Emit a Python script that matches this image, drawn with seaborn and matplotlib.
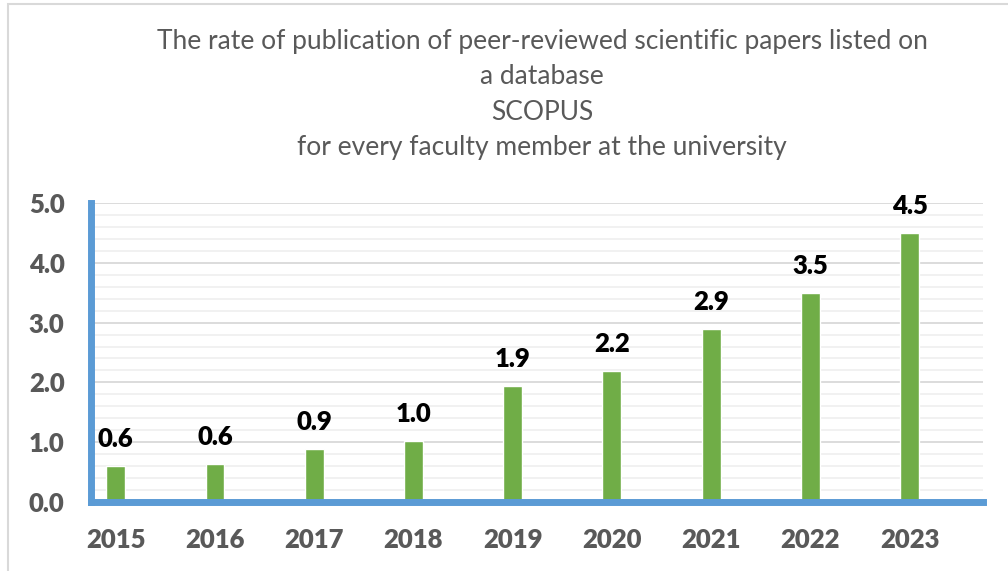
import matplotlib
matplotlib.use("Agg")
import matplotlib.pyplot as plt
import seaborn as sns
import pandas as pd
from matplotlib.patches import Rectangle
from matplotlib.ticker import MultipleLocator

years = ["2015", "2016", "2017", "2018", "2019", "2020", "2021", "2022", "2023"]
rates = [0.60, 0.63, 0.89, 1.02, 1.94, 2.19, 2.89, 3.49, 4.49]
labels = ["0.6", "0.6", "0.9", "1.0", "1.9", "2.2", "2.9", "3.5", "4.5"]
title = ("The rate of publication of peer-reviewed scientific papers listed on\n"
         "a database\nSCOPUS\nfor every faculty member at the university")

sns.set_theme(style="white")
plt.rcParams['font.family'] = ['Lato', 'DejaVu Sans']

df = pd.DataFrame({"year": years, "rate": rates})

fig = plt.figure(figsize=(10.08, 5.71), dpi=100)
ax = fig.add_axes([91/1008, 1-502/571, (983-91)/1008, (502-203)/571])

sns.barplot(data=df, x="year", y="rate", color="#70AD47", width=0.19,
            saturation=1, ax=ax, zorder=3)

ax.set_xlim(-0.25, 8.74)
ax.set_ylim(0, 5.0)
ax.yaxis.set_major_locator(MultipleLocator(1.0))
ax.yaxis.set_minor_locator(MultipleLocator(0.2))
ax.yaxis.set_major_formatter(matplotlib.ticker.FormatStrFormatter("%.1f"))
ax.grid(axis="y", which="major", color="#D9D9D9", linewidth=1.3, zorder=0)
ax.grid(axis="y", which="minor", color="#F0F0F0", linewidth=1.3, zorder=0)
ax.set_axisbelow(True)

for s in ["top", "right"]:
    ax.spines[s].set_visible(False)
for s in ["left", "bottom"]:
    ax.spines[s].set_visible(True)
    ax.spines[s].set_color("#5B9BD5")
    ax.spines[s].set_linewidth(5)
    ax.spines[s].set_zorder(5)

ax.tick_params(axis="y", which="both", length=0, pad=19, labelsize=18.5,
               labelcolor="#595959")
ax.tick_params(axis="x", length=0, pad=19, labelsize=18.5, labelcolor="#595959")
for t in ax.get_xticklabels() + ax.get_yticklabels():
    t.set_fontweight("heavy")
ax.set_xlabel("")
ax.set_ylabel("")

ax.bar_label(ax.containers[0], labels=labels, padding=11, fontsize=18.5,
             fontweight="heavy", color="black")

fig.text(542/1008, 1-29/571, title, ha="center", va="top", fontsize=19,
         color="#595959", linespacing=1.52)

fig.patches.append(Rectangle((8/1008, -0.1), 1.2, 1-4/571+0.1,
                             transform=fig.transFigure, fill=False,
                             edgecolor="#D9D9D9", linewidth=1.5))

fig.savefig("out.png", dpi=100)
